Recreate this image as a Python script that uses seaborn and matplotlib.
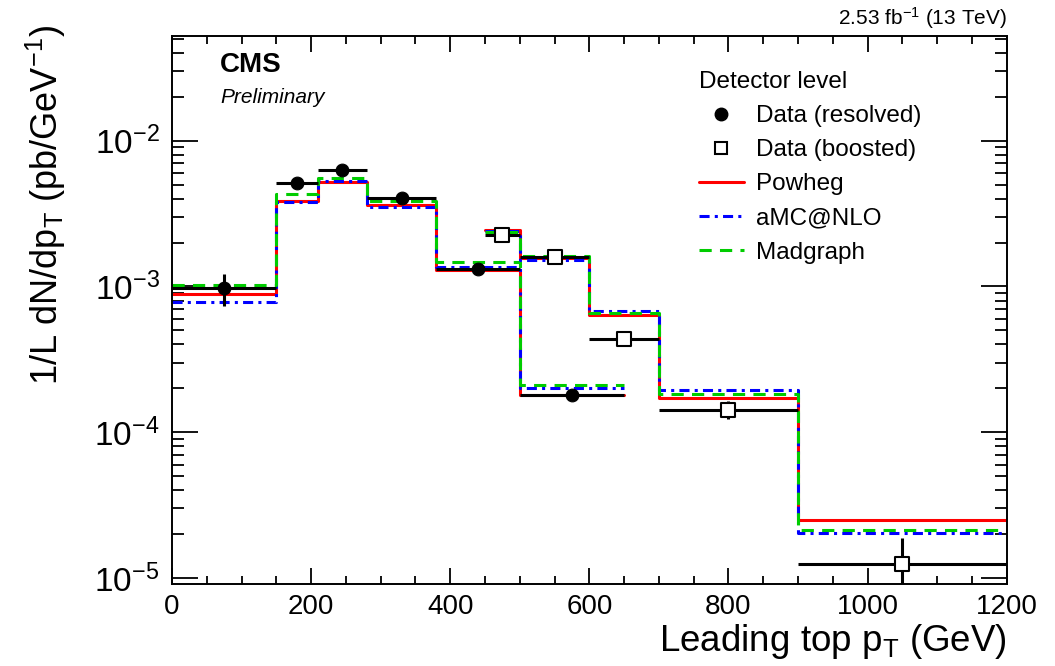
import numpy as np
import matplotlib
matplotlib.use("Agg")
import matplotlib.pyplot as plt
import seaborn as sns
from matplotlib.lines import Line2D
from matplotlib.ticker import MultipleLocator, LogLocator, NullFormatter

# resolved selection: bin edges, data and predictions
res_edges = [0, 150, 210, 280, 380, 500, 650]
res_data = [9.8e-4, 5.13e-3, 6.33e-3, 4.05e-3, 1.32e-3, 1.81e-4]
res_err = [2.4e-4, 1.5e-4, 1.5e-4, 1.0e-4, 5e-5, 1.3e-5]
res_powheg = [8.85e-4, 3.88e-3, 5.2e-3, 3.64e-3, 1.29e-3, 1.8e-4]
res_amc = [7.8e-4, 3.79e-3, 5.3e-3, 3.53e-3, 1.37e-3, 2.01e-4]
res_madgraph = [1.03e-3, 4.3e-3, 5.57e-3, 3.85e-3, 1.47e-3, 2.1e-4]

# boosted selection
boo_edges = [450, 500, 600, 700, 900, 1200]
boo_data = [2.26e-3, 1.6e-3, 4.35e-4, 1.43e-4, 1.24e-5]
boo_err = [8e-5, 5e-5, 4.5e-5, 2e-5, 6.4e-6]
boo_powheg = [2.45e-3, 1.58e-3, 6.35e-4, 1.73e-4, 2.51e-5]
boo_amc = [2.4e-3, 1.51e-3, 6.8e-4, 1.94e-4, 2.04e-5]
boo_madgraph = [2.35e-3, 1.62e-3, 6.6e-4, 1.83e-4, 2.12e-5]

sns.set_theme(style="ticks")
plt.rcParams['font.family'] = ['Liberation Sans', 'DejaVu Sans']
plt.rcParams['mathtext.fontset'] = 'custom'
plt.rcParams['mathtext.rm'] = 'Liberation Sans'
plt.rcParams['mathtext.it'] = 'Liberation Sans:italic'
plt.rcParams['mathtext.bf'] = 'Liberation Sans:bold'
plt.rcParams['text.color'] = 'black'
plt.rcParams['axes.labelcolor'] = 'black'

RED = "#ff0000"
BLUE = "#0000ff"
GREEN = "#00cc00"
LW = 2.2
DASHDOT = (0, (3.3, 1.7, 1.0, 1.7))
DASHED = (0, (4.0, 2.7))

fig = plt.figure(figsize=(10.55, 6.66), dpi=100)
ax = fig.add_axes([172 / 1055, 1 - 584 / 666, 834.7 / 1055, 548.3 / 666])


def step_line(edges, vals, color, ls):
    x = np.array(edges, dtype=float)
    y = np.append(vals, vals[-1])
    sns.lineplot(x=x, y=y, drawstyle="steps-post", color=color, linestyle=ls,
                 lw=LW, sort=False, estimator=None, ax=ax, zorder=2)


for edges, pw, amc, mg in [(res_edges, res_powheg, res_amc, res_madgraph),
                           (boo_edges, boo_powheg, boo_amc, boo_madgraph)]:
    step_line(edges, pw, RED, "-")
    step_line(edges, amc, BLUE, DASHDOT)
    step_line(edges, mg, GREEN, DASHED)

# data points with bin-width horizontal bars
res_x = [(a + b) / 2 for a, b in zip(res_edges[:-1], res_edges[1:])]
res_xerr = [(b - a) / 2 for a, b in zip(res_edges[:-1], res_edges[1:])]
boo_x = [(a + b) / 2 for a, b in zip(boo_edges[:-1], boo_edges[1:])]
boo_xerr = [(b - a) / 2 for a, b in zip(boo_edges[:-1], boo_edges[1:])]

ax.errorbar(res_x, res_data, xerr=res_xerr, yerr=res_err, fmt="none",
            ecolor="black", elinewidth=2.2, capsize=0, zorder=3)
ax.errorbar(boo_x, boo_data, xerr=boo_xerr, yerr=boo_err, fmt="none",
            ecolor="black", elinewidth=2.2, capsize=0, zorder=3)
sns.scatterplot(x=res_x, y=res_data, marker="o", s=85, color="black",
                edgecolor="black", ax=ax, zorder=4)
sns.scatterplot(x=boo_x, y=boo_data, marker="s", s=95, color="white",
                edgecolor="black", linewidth=1.5, ax=ax, zorder=4)

ax.set_yscale("log")
ax.set_xlim(0, 1200)
ax.set_ylim(9.1e-6, 5.25e-2)

ax.xaxis.set_major_locator(MultipleLocator(200))
ax.xaxis.set_minor_locator(MultipleLocator(50))
ax.yaxis.set_major_locator(LogLocator(base=10, numticks=10))
ax.yaxis.set_minor_locator(LogLocator(base=10, subs=np.arange(2, 10), numticks=20))
ax.yaxis.set_minor_formatter(NullFormatter())

ax.tick_params(axis="both", which="both", direction="in", top=True, right=True,
               colors="black", width=1.3)
ax.tick_params(axis="y", which="major", length=19, labelsize=24, pad=9)
ax.tick_params(axis="y", which="minor", length=8.6)
ax.tick_params(axis="x", which="major", length=11.5, labelsize=20, pad=7)
ax.tick_params(axis="x", which="minor", length=5.8)
for sp in ax.spines.values():
    sp.set_linewidth(1.4)
    sp.set_color("black")

ax.set_xlabel("Leading top p$_\\mathdefault{T}$ (GeV)", fontsize=26.5, loc="right")
ax.xaxis.set_label_coords(1.0, -0.069)
ax.set_ylabel("1/L dN/dp$_\\mathdefault{T}$ (pb/GeV$^\\mathdefault{-1}$)", fontsize=26, loc="top")
ax.yaxis.set_label_coords(-0.124, 1.02)

ax.text(0.0575, 0.9466, "CMS", transform=ax.transAxes, fontsize=20,
        fontweight="bold", va="center", ha="left")
ax.text(0.0575, 0.888, "Preliminary", transform=ax.transAxes, fontsize=15,
        fontstyle="italic", va="center", ha="left")
fig.text(1007 / 1055, 1 - 18 / 666, "2.53 fb$^\\mathdefault{-1}$ (13 TeV)",
         fontsize=15, ha="right", va="center")

handles = [
    Line2D([], [], ls="none", marker="o", ms=9, color="black"),
    Line2D([], [], ls="none", marker="s", ms=9, mfc="white", mec="black", mew=1.5),
    Line2D([], [], color=RED, lw=LW, ls="-"),
    Line2D([], [], color=BLUE, lw=LW, ls=DASHDOT),
    Line2D([], [], color=GREEN, lw=LW, ls=DASHED),
]
labels = ["Data (resolved)", "Data (boosted)", "Powheg", "aMC@NLO", "Madgraph"]
leg = ax.legend(handles, labels, title="Detector level", loc="upper left",
                bbox_to_anchor=(699 / 1055, 1 - 71 / 666),
                bbox_transform=fig.transFigure, frameon=False, fontsize=17.5,
                title_fontsize=17.5, alignment="left", handlelength=1.85,
                handletextpad=0.5, labelspacing=0.5, borderpad=0,
                borderaxespad=0)

fig.savefig("out.png", dpi=100)
